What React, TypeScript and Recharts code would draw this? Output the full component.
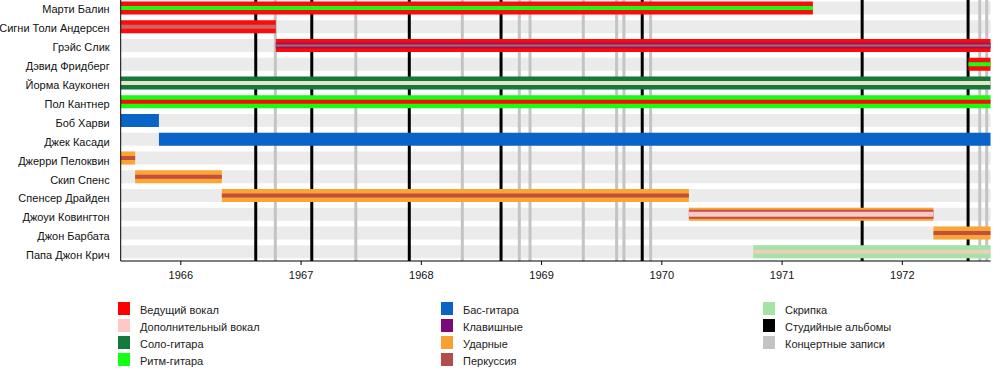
import React from 'react';
import { BarChart, Bar, XAxis, YAxis, ReferenceLine } from 'recharts';

// ---------------- DATA ----------------
const TIMELINE_START = 1965.5;
const TIMELINE_END = 1972.735;

const members = [
  'Марти Балин',
  'Сигни Толи Андерсен',
  'Грэйс Слик',
  'Дэвид Фридберг',
  'Йорма Кауконен',
  'Пол Кантнер',
  'Боб Харви',
  'Джек Касади',
  'Джерри Пелоквин',
  'Скип Спенс',
  'Спенсер Драйден',
  'Джоуи Ковингтон',
  'Джон Барбата',
  'Папа Джон Крич',
];

const startYears = [
  1965.5, 1965.5, 1966.79, 1972.55, 1965.5, 1965.5, 1965.5,
  1965.818, 1965.5, 1965.62, 1966.341, 1970.225, 1972.259, 1970.76,
];

const endYears = [
  1971.256, 1966.79, TIMELINE_END, TIMELINE_END, TIMELINE_END, TIMELINE_END, 1965.818,
  TIMELINE_END, 1965.62, 1966.341, 1970.225, 1972.259, TIMELINE_END, TIMELINE_END,
];

const primaryRole = [
  'vocals', 'vocals', 'vocals', 'vocals', 'leadGuitar', 'rhythmGuitar', 'bass',
  'bass', 'drums', 'drums', 'drums', 'drums', 'drums', 'violin',
];

const secondaryRoles: string[][] = [
  ['rhythmGuitar'],
  ['percussion'],
  ['keyboards', 'percussion'],
  ['rhythmGuitar'],
  ['backingVocals'],
  ['vocals'],
  [],
  [],
  ['percussion'],
  ['percussion'],
  ['percussion'],
  ['percussion', 'backingVocals'],
  ['percussion'],
  ['backingVocals'],
];

const yearTicks = [1966, 1967, 1968, 1969, 1970, 1971, 1972];

const studioAlbums = [1966.623, 1967.089, 1967.9, 1968.663, 1969.837, 1971.666, 1972.547];
const liveAlbums = [
  1966.786, 1967.455, 1968.341, 1968.815, 1968.904, 1969.347,
  1969.624, 1969.685, 1969.907, 1972.644, 1972.702,
];

const roleKeys = [
  'vocals', 'backingVocals', 'leadGuitar', 'rhythmGuitar',
  'bass', 'keyboards', 'drums', 'percussion',
  'violin', 'studio', 'live',
];
const roleLabels = [
  'Ведущий вокал', 'Дополнительный вокал', 'Соло-гитара', 'Ритм-гитара',
  'Бас-гитара', 'Клавишные', 'Ударные', 'Перкуссия',
  'Скрипка', 'Студийные альбомы', 'Концертные записи',
];

// ---------------- STYLES ----------------
const LEGEND_COLORS: Record<string, string> = {
  vocals: '#ff0000',
  backingVocals: '#fcc8c8',
  leadGuitar: '#137a3c',
  rhythmGuitar: '#14ff14',
  bass: '#0a64c8',
  keyboards: '#7a0a7a',
  drums: '#f9a032',
  percussion: '#b54c4c',
  violin: '#a3e3a3',
  studio: '#000000',
  live: '#c4c4c4',
};
const BAR_COLORS: Record<string, string> = {
  ...LEGEND_COLORS,
  vocals: '#ff0a0a',
  keyboards: '#9c1050',
  percussion: '#c24e3e',
  drums: '#fba534',
  backingVocals: '#f9c8c8',
};
const STRIPE_SIZES: Record<number, number[]> = { 2: [6, 2], 11: [9, 5] };
const STRIPE_OVERRIDES: Record<number, string[]> = {
  1: ['#c46868'],
  2: ['#a01452', '#a86878'],
  4: ['#ebe2cc'],
  13: ['#ecd0bc'],
};
const FONT = '"Liberation Sans", Arial, Helvetica, sans-serif';

const rows = members.map((name, i) => ({ name, idx: i, span: [startYears[i], endYears[i]] }));

const MemberBar = (props: any) => {
  const { x, y, width, height } = props;
  const i: number = props.payload?.idx ?? props.index;
  if (!(width > 0)) return null;
  const cy = y + height / 2;
  const sizes = STRIPE_SIZES[i] ?? [4, 4];
  const over = STRIPE_OVERRIDES[i];
  return (
    <g>
      <rect x={x} y={y} width={width} height={height} fill={BAR_COLORS[primaryRole[i]]} />
      {secondaryRoles[i].map((r, k) => {
        const h = sizes[k] ?? 4;
        return (
          <rect key={k} x={x} y={cy - h / 2} width={width} height={h} fill={over?.[k] ?? BAR_COLORS[r]} />
        );
      })}
    </g>
  );
};

const YTick = (props: any) => {
  const { x, y, payload, index } = props;
  return (
    <text x={x} y={y} dy={5.6 + (index ?? 0) * 0.15} textAnchor="end" fontSize={11} fill="#111" fontFamily={FONT}>
      {payload.value}
    </text>
  );
};

const legendColumns = [
  [0, 1, 2, 3],
  [4, 5, 6, 7],
  [8, 9, 10],
];
const legendLefts = [118, 441, 763];

export default function App() {
  return (
    <div
      style={{
        position: 'absolute',
        left: 0,
        top: 0,
        width: 1000,
        height: 370,
        background: '#fff',
        fontFamily: FONT,
        overflow: 'hidden',
      }}
    >
      <div style={{ position: 'absolute', left: 0, top: -10 }}>
        <BarChart
          layout="vertical"
          width={1000}
          height={300}
          data={rows}
          margin={{ top: 8.5, right: 9.3, bottom: 0, left: 0 }}
          barSize={13}
        >
          <XAxis
            type="number"
            domain={[TIMELINE_START, TIMELINE_END]}
            allowDataOverflow
            ticks={yearTicks}
            height={29}
            tickSize={4}
            tickMargin={6}
            axisLine={{ stroke: '#000' }}
            tickLine={{ stroke: '#000' }}
            tick={{ fontSize: 11, fill: '#111', fontFamily: FONT }}
          />
          <YAxis
            type="category"
            dataKey="name"
            width={120.7}
            interval={0}
            tickLine={false}
            tickSize={0}
            tickMargin={11}
            axisLine={{ stroke: '#000' }}
            tick={<YTick />}
          />
          {studioAlbums.map((v) => (
            <ReferenceLine key={'s' + v} x={v} stroke={LEGEND_COLORS.studio} strokeWidth={3} zIndex={-10} />
          ))}
          {liveAlbums.map((v) => (
            <ReferenceLine key={'l' + v} x={v} stroke={LEGEND_COLORS.live} strokeWidth={3} zIndex={-20} />
          ))}
          <Bar
            dataKey="span"
            isAnimationActive={false}
            background={{ fill: '#ebebeb' }}
            shape={<MemberBar />}
          />
        </BarChart>
      </div>
      {legendColumns.map((col, c) =>
        col.map((ri, r) => (
          <div
            key={ri}
            style={{
              position: 'absolute',
              left: legendLefts[c],
              top: 302 + r * 17,
              height: 13,
              display: 'flex',
              alignItems: 'center',
              fontSize: 11,
              color: '#222',
              whiteSpace: 'nowrap',
            }}
          >
            <div style={{ width: 12, height: 13, background: LEGEND_COLORS[roleKeys[ri]], marginRight: 10 }} />
            <span style={{ position: 'relative', top: 1 }}>{roleLabels[ri]}</span>
          </div>
        ))
      )}
    </div>
  );
}
